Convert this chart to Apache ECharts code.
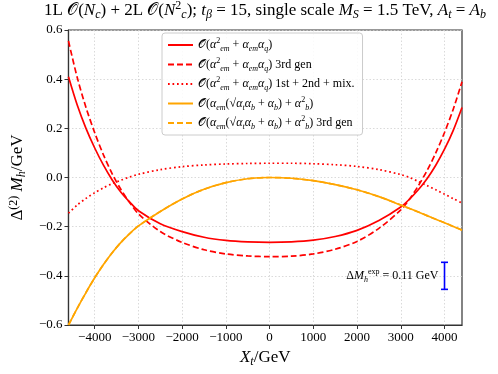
<!DOCTYPE html>
<html><head><meta charset="utf-8">
<script src="https://cdn.jsdelivr.net/npm/echarts@6/dist/echarts.min.js"></script>
<style>html,body{margin:0;padding:0;background:#fff}#c{width:498px;height:374px}</style>
</head><body><div id="c"></div>
<script>
// ---- data ----
const xValues = [-4600,-4400,-4200,-4000,-3800,-3600,-3400,-3200,-3000,-2500,-2000,-1500,-1000,-500,0,500,1000,1500,2000,2500,3000,3200,3400,3600,3800,4000,4200,4400];
const totalQ = [0.41,0.295,0.20,0.12,0.05,-0.01,-0.06,-0.10,-0.135,-0.188,-0.22,-0.243,-0.256,-0.262,-0.264,-0.262,-0.255,-0.240,-0.215,-0.175,-0.12,-0.088,-0.05,-0.005,0.05,0.115,0.192,0.285];
const thirdGenQ = [0.555,0.407,0.285,0.182,0.092,0.015,-0.049,-0.102,-0.148,-0.22,-0.264,-0.294,-0.311,-0.319,-0.322,-0.320,-0.311,-0.292,-0.26,-0.207,-0.132,-0.088,-0.034,0.028,0.10,0.183,0.278,0.389];
const lightGenQ = [-0.145,-0.112,-0.085,-0.062,-0.042,-0.025,-0.011,0.002,0.013,0.032,0.044,0.051,0.055,0.057,0.058,0.058,0.056,0.052,0.045,0.032,0.012,0.0,-0.016,-0.033,-0.05,-0.068,-0.086,-0.104];
const totalB = [-0.60,-0.532,-0.468,-0.408,-0.354,-0.306,-0.264,-0.228,-0.197,-0.138,-0.087,-0.048,-0.021,-0.005,0,-0.003,-0.013,-0.029,-0.050,-0.078,-0.112,-0.126,-0.140,-0.155,-0.170,-0.184,-0.199,-0.214];
const thirdGenB = [-0.60,-0.532,-0.468,-0.408,-0.354,-0.306,-0.264,-0.228,-0.197,-0.138,-0.087,-0.048,-0.021,-0.005,0,-0.003,-0.013,-0.029,-0.050,-0.078,-0.112,-0.126,-0.140,-0.155,-0.170,-0.184,-0.199,-0.214];
const xTicks = [-4000,-3000,-2000,-1000,0,1000,2000,3000,4000];
const errX = [4000];
const errLow = [-0.455];
const errHigh = [-0.345];
const errLabel = '{n|Δ}{i|M}{sb|h}{sp|exp}{n| = 0.11 GeV}';

const seriesNames = ['s1','s2','s3','s4','s5'];
const O = '{o|𝒪}';
const qPart = O+'{n|(}{i|α}{sp|2}{sb|em}{n| + }{i|α}{sb|em}{i|α}{sb|q}{n|)}';
const bPart = O+'{n|(}{i|α}{sb|em}{n|(√}{i|α}{sb|t}{i|α}{sb|b}{n| + }{i|α}{sb|b}{n|) + }{i|α}{sp|2}{sb|b}{n|)}';
const legendLabels = {
  s1: qPart,
  s2: qPart + '{n| 3rd gen}',
  s3: qPart + '{n| 1st + 2nd + mix.}',
  s4: bPart,
  s5: bPart + '{n| 3rd gen}'
};

const SERIF = "'Liberation Serif','DejaVu Serif',serif";
function richSet(fs, lh){
  const small = Math.round(fs*0.68);
  const b = {fontFamily:SERIF, fontWeight:'normal', color:'#000'};
  return {
    n:Object.assign({fontSize:fs,lineHeight:lh}, b),
    o:Object.assign({fontSize:fs,lineHeight:lh}, b),
    i:Object.assign({fontSize:fs,lineHeight:lh,fontStyle:'italic'}, b),
    sb:Object.assign({fontSize:small,lineHeight:small+1,verticalAlign:'bottom',fontStyle:'italic'}, b),
    sp:Object.assign({fontSize:small,lineHeight:small+1,verticalAlign:'top'}, b)
  };
}
function fmtMinus(s){ return s.replace('-', '−'); }

function pairs(ys){ return xValues.map((x,k)=>[x, ys[k]]); }

const chart = echarts.init(document.getElementById('c'), null, {renderer:'canvas'});
const lineBase = {type:'line', showSymbol:false, symbol:'none', smooth:0.3, animation:false, z:3};
chart.setOption({
  animation:false,
  backgroundColor:'#fff',
  title:{
    text:'{n|1L }'+O+'{n|(}{i|N}{sb|c}{n|) + 2L }'+O+'{n|(}{i|N}{sp|2}{sb|c}{n|); }{i|t}{sb|β}{n| = 15, single scale }{i|M}{sb|S}{n| = 1.5 TeV, }{i|A}{sb|t}{n| = }{i|A}{sb|b}',
    left:265, textAlign:'center', top:0, padding:0,
    textStyle:{fontWeight:'normal', rich:richSet(17,21)}
  },
  grid:{left:66, right:36, top:30, bottom:49, show:true, borderColor:'#333', borderWidth:1.2, backgroundColor:'transparent'},
  legend:{
    data:seriesNames, orient:'vertical', left:162, top:33, itemWidth:25, itemHeight:10, itemGap:3.5,
    padding:[4,8,4,5], backgroundColor:'rgba(255,255,255,0.85)', borderColor:'#ccc', borderWidth:1, borderRadius:3,
    itemStyle:{opacity:0},
    formatter:(name)=>legendLabels[name],
    textStyle:{rich:richSet(12,16)}
  },
  xAxis:{
    type:'value', min:-4600, max:4400,
    name:'{i|X}{sb|t}{n|/GeV}', nameLocation:'middle', nameGap:23,
    nameTextStyle:{rich:richSet(17,20)},
    axisLine:{onZero:false, lineStyle:{color:'#333', width:1.2}},
    axisTick:{customValues:xTicks, length:4, lineStyle:{color:'#333'}},
    axisLabel:{customValues:xTicks, fontFamily:SERIF, fontSize:13, color:'#000', margin:6, formatter:v=>fmtMinus(String(v))},
    splitLine:{show:true, lineStyle:{color:'#d0d0d0', type:[1.5,2], width:0.8}}
  },
  yAxis:{
    type:'value', min:-0.6, max:0.6, interval:0.2,
    name:'{n|Δ}{sp|(2)}{i| M}{sb|h}{n|/GeV}', nameLocation:'middle', nameGap:36, nameRotate:90,
    nameTextStyle:{rich:richSet(17,20)},
    axisLine:{show:true, onZero:false, lineStyle:{color:'#333', width:1.2}},
    axisTick:{show:true, length:4, lineStyle:{color:'#333'}},
    axisLabel:{fontFamily:SERIF, fontSize:13, color:'#000', margin:6, formatter:v=>fmtMinus((Math.abs(v)<1e-9?0:v).toFixed(1))},
    splitLine:{show:true, lineStyle:{color:'#d0d0d0', type:[1.5,2], width:0.8}}
  },
  series:[
    Object.assign({}, lineBase, {name:'s1', data:pairs(totalQ), lineStyle:{color:'#ff0000', width:1.7, type:'solid'}, itemStyle:{color:'#ff0000'}}),
    Object.assign({}, lineBase, {name:'s2', data:pairs(thirdGenQ), lineStyle:{color:'#ff0000', width:1.7, type:[6,3]}, itemStyle:{color:'#ff0000'}}),
    Object.assign({}, lineBase, {name:'s3', data:pairs(lightGenQ), lineStyle:{color:'#ff0000', width:1.7, type:[1.7,2.8]}, itemStyle:{color:'#ff0000'}}),
    Object.assign({}, lineBase, {name:'s4', data:pairs(totalB), lineStyle:{color:'#ffa500', width:1.7, type:'solid'}, itemStyle:{color:'#ffa500'}}),
    Object.assign({}, lineBase, {name:'s5', data:pairs(thirdGenB), lineStyle:{color:'#ffa500', width:1.7, type:[6,3]}, itemStyle:{color:'#ffa500'}}),
    {
      type:'custom', name:'err', animation:false, z:4,
      data: errX.map((x,k)=>[x, errLow[k], errHigh[k]]),
      renderItem:(params, api)=>{
        const x = api.value(0), lo = api.value(1), hi = api.value(2);
        const p1 = api.coord([x, hi]), p2 = api.coord([x, lo]);
        const st = {stroke:'#0000ff', lineWidth:1.6};
        return {type:'group', children:[
          {type:'line', shape:{x1:p1[0], y1:p1[1], x2:p2[0], y2:p2[1]}, style:st},
          {type:'line', shape:{x1:p1[0]-3.5, y1:p1[1], x2:p1[0]+3.5, y2:p1[1]}, style:st},
          {type:'line', shape:{x1:p2[0]-3.5, y1:p2[1], x2:p2[0]+3.5, y2:p2[1]}, style:st},
          {type:'text', style:{text:errLabel, x:p1[0]-6, y:(p1[1]+p2[1])/2, align:'right', verticalAlign:'middle', rich:richSet(12,16)}}
        ]};
      }
    }
  ]
});
</script></body></html>
